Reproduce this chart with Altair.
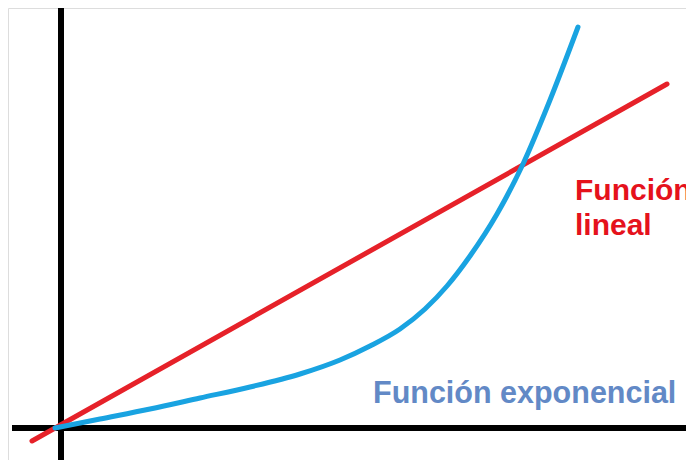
import altair as alt
import pandas as pd

# Coordinates: origin at the axes crossing, units ~ pixels
blue_x = [-5, 40, 90, 140, 190, 240, 280, 310, 340, 365, 387, 410, 437, 463, 490, 518]
blue_y = [0, 9, 19, 30, 41, 54, 68, 82, 99, 119, 142, 172, 214, 264, 328, 401]

red_x = [-28, 607]
red_y = [-13, 344]

label_text = ["Función", "lineal", "Función exponencial"]
label_x = [515, 515, 313]
label_y = [228, 193, 25]
label_color = ["#E5121C", "#E5121C", "#6289C6"]
label_size = [30, 30, 30.5]

xdom = [-52, 626]
ydom = [-32, 420]

xs = alt.Scale(domain=xdom, nice=False, zero=False)
ys = alt.Scale(domain=ydom, nice=False, zero=False)

blue = pd.DataFrame({"x": blue_x, "y": blue_y, "o": list(range(len(blue_x)))})
red = pd.DataFrame({"x": red_x, "y": red_y})
labels = pd.DataFrame({"t": label_text, "x": label_x, "y": label_y, "c": label_color, "s": label_size})

vaxis = alt.Chart(pd.DataFrame({"x": [1], "y": [423], "y2": [-37]})).mark_rule(
    color="black", strokeWidth=6, clip=True
).encode(x=alt.X("x:Q", scale=xs, axis=None), y=alt.Y("y:Q", scale=ys, axis=None), y2="y2:Q")

haxis = alt.Chart(pd.DataFrame({"x": [-48], "x2": [640], "y": [0]})).mark_rule(
    color="black", strokeWidth=6, clip=True
).encode(x=alt.X("x:Q", scale=xs, axis=None), x2="x2:Q", y=alt.Y("y:Q", scale=ys, axis=None))

red_line = alt.Chart(red).mark_line(color="#E62129", strokeWidth=5, strokeCap="round", clip=True).encode(
    x=alt.X("x:Q", scale=xs, axis=None), y=alt.Y("y:Q", scale=ys, axis=None)
)

blue_line = alt.Chart(blue).mark_line(
    color="#19A3E1", strokeWidth=5, strokeCap="round", interpolate="monotone", clip=True
).encode(
    x=alt.X("x:Q", scale=xs, axis=None), y=alt.Y("y:Q", scale=ys, axis=None), order="o:Q"
)

text = alt.Chart(labels).mark_text(
    align="left", baseline="alphabetic", font="Liberation Sans", fontWeight="bold"
).encode(
    x=alt.X("x:Q", scale=xs, axis=None), y=alt.Y("y:Q", scale=ys, axis=None),
    text="t:N", color=alt.Color("c:N", scale=None), size=alt.Size("s:Q", scale=None)
)

chart = alt.layer(vaxis, haxis, red_line, blue_line, text).properties(
    width=678, height=452, padding=0, autosize=alt.AutoSizeParams(type="none")
).configure_view(stroke=None).configure(background="white")

chart.save("out.html", embed_options={"renderer": "svg", "actions": False})
